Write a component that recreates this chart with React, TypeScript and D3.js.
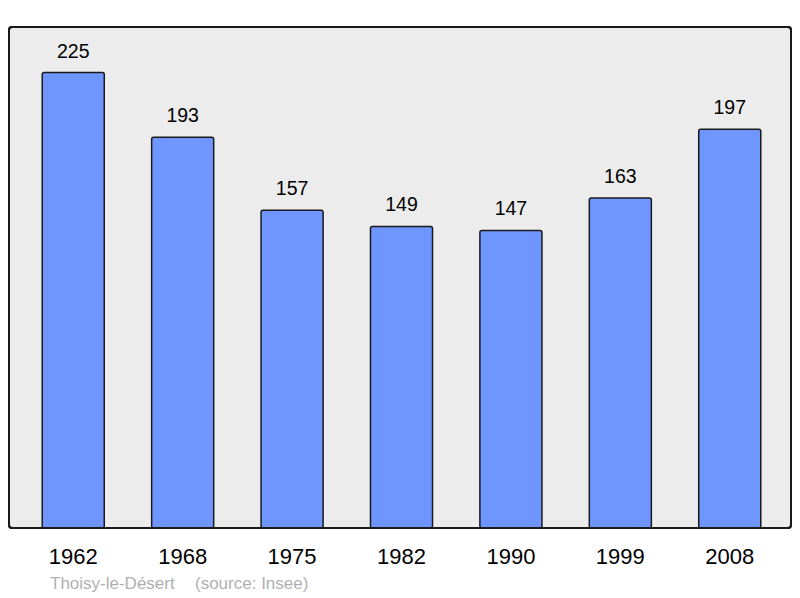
import React from 'react'
import * as d3 from 'd3'

const years = ['1962', '1968', '1975', '1982', '1990', '1999', '2008']
const population = [225, 193, 157, 149, 147, 163, 197]
const commune = 'Thoisy-le-Désert'
const source = '(source: Insee)'

const App = () => {
  const width = 800
  const height = 598
  const panel = { left: 9, top: 27, right: 791, bottom: 528 }

  const x = d3
    .scaleBand<string>()
    .domain(years)
    .range([panel.left + 1.5, panel.right + 1.5])
    .paddingInner(0.433)
    .paddingOuter(0.29)

  const y = d3
    .scaleLinear()
    .domain([0, d3.max(population)! * 1.1])
    .range([panel.bottom, panel.top])

  const font = '"Liberation Sans", Arial, sans-serif'

  return (
    <svg
      width={width}
      height={height}
      style={{ position: 'absolute', left: 0, top: 0 }}
      fontFamily={font}
    >
      <rect
        x={panel.left}
        y={panel.top}
        width={panel.right - panel.left}
        height={panel.bottom - panel.top}
        rx={3}
        fill="#ececec"
        stroke="#1a1a1a"
        strokeWidth={2}
      />
      {years.map((yr, i) => (
        <g key={yr}>
          <rect
            x={x(yr)}
            y={y(population[i])}
            width={x.bandwidth()}
            height={panel.bottom - y(population[i])}
            rx={2}
            fill="#6f96ff"
            stroke="#1a1a1a"
            strokeWidth={1.5}
          />
          <text
            x={x(yr)! + x.bandwidth() / 2}
            y={y(population[i]) - 15}
            textAnchor="middle"
            fontSize={19.5}
            fill="#000"
          >
            {population[i]}
          </text>
          <text
            x={x(yr)! + x.bandwidth() / 2}
            y={564}
            textAnchor="middle"
            fontSize={22}
            fill="#000"
          >
            {yr}
          </text>
        </g>
      ))}
      <rect
        x={panel.left}
        y={panel.top}
        width={panel.right - panel.left}
        height={panel.bottom - panel.top}
        rx={3}
        fill="none"
        stroke="#1a1a1a"
        strokeWidth={2}
      />
      <text x={50} y={589} fontSize={17} fill="#b0b0b0">
        {commune}
      </text>
      <text x={195} y={589} fontSize={17} fill="#b0b0b0">
        {source}
      </text>
    </svg>
  )
}

export default App
